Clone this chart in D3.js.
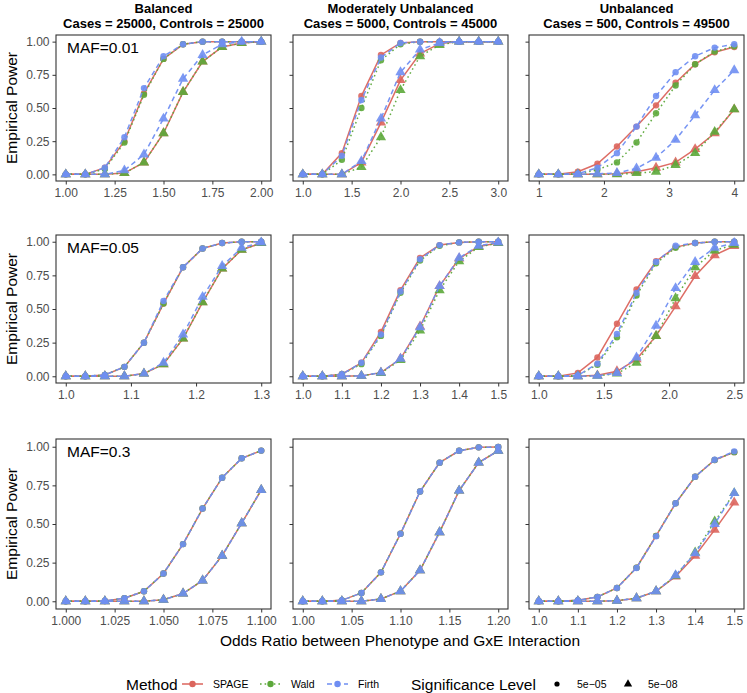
<!DOCTYPE html>
<html><head><meta charset="utf-8">
<script src="https://cdn.jsdelivr.net/npm/d3@7"></script>
<style>
body{margin:0;background:#fff;}
svg{display:block;font-family:"Liberation Sans",Arial,Helvetica,sans-serif;}
</style></head>
<body><svg id="chart" width="747" height="693"></svg>
<script>
// ---------- labels ----------
const designTitles = ["Balanced", "Moderately Unbalanced", "Unbalanced"];
const designSubtitles = ["Cases = 25000, Controls = 25000", "Cases = 5000, Controls = 45000", "Cases = 500, Controls = 49500"];
const mafLabels = ["MAF=0.01", "MAF=0.05", "MAF=0.3"];
const methods = ["SPAGE", "Wald", "Firth"];
const sigLevels = ["5e\u221205", "5e\u221208"];
const yTickValues = [0, 0.25, 0.5, 0.75, 1];
const yTickLabels = ["0.00", "0.25", "0.50", "0.75", "1.00"];

// ---------- x values (odds ratios) per panel ----------
const x_r1c1 = [1.0,1.1,1.2,1.3,1.4,1.5,1.6,1.7,1.8,1.9,2.0];
const x_r1c2 = [1.0,1.2,1.4,1.6,1.8,2.0,2.2,2.4,2.6,2.8,3.0];
const x_r1c3 = [1.0,1.3,1.6,1.9,2.2,2.5,2.8,3.1,3.4,3.7,4.0];
const x_r2c1 = [1.00,1.03,1.06,1.09,1.12,1.15,1.18,1.21,1.24,1.27,1.30];
const x_r2c2 = [1.00,1.05,1.10,1.15,1.20,1.25,1.30,1.35,1.40,1.45,1.50];
const x_r2c3 = [1.00,1.15,1.30,1.45,1.60,1.75,1.90,2.05,2.20,2.35,2.50];
const x_r3c1 = [1.00,1.01,1.02,1.03,1.04,1.05,1.06,1.07,1.08,1.09,1.10];
const x_r3c2 = [1.00,1.02,1.04,1.06,1.08,1.10,1.12,1.14,1.16,1.18,1.20];
const x_r3c3 = [1.00,1.05,1.10,1.15,1.20,1.25,1.30,1.35,1.40,1.45,1.50];

// ---------- x axis domains & tick labels ----------
const xDomains = [[1,2],[1,3],[1,4],[1,1.3],[1,1.5],[1,2.5],[1,1.1],[1,1.2],[1,1.5]];
const xTicks = [
  [1,1.25,1.5,1.75,2], [1,1.5,2,2.5,3], [1,2,3,4],
  [1,1.1,1.2,1.3], [1,1.1,1.2,1.3,1.4,1.5], [1,1.5,2,2.5],
  [1,1.025,1.05,1.075,1.1], [1,1.05,1.1,1.15,1.2], [1,1.1,1.2,1.3,1.4,1.5]
];
const xTickLabels = [
  ["1.00","1.25","1.50","1.75","2.00"], ["1.0","1.5","2.0","2.5","3.0"], ["1","2","3","4"],
  ["1.0","1.1","1.2","1.3"], ["1.0","1.1","1.2","1.3","1.4","1.5"], ["1.0","1.5","2.0","2.5"],
  ["1.000","1.025","1.050","1.075","1.100"], ["1.00","1.05","1.10","1.15","1.20"], ["1.0","1.1","1.2","1.3","1.4","1.5"]
];

// ---------- empirical power: c = 5e-05 (circles), t = 5e-08 (triangles) ----------
// Row 1: MAF = 0.01
const r1c1_SPAGE_c = [0,0,0.05,0.25,0.61,0.87,0.98,1,1,1,1];
const r1c1_Wald_c  = [0,0,0.04,0.24,0.60,0.87,0.98,1,1,1,1];
const r1c1_Firth_c = [0,0,0.05,0.28,0.65,0.89,0.98,1,1,1,1];
const r1c1_SPAGE_t = [0,0,0,0.01,0.09,0.31,0.62,0.85,0.96,0.99,1];
const r1c1_Wald_t  = [0,0,0,0.01,0.09,0.31,0.62,0.85,0.96,0.99,1];
const r1c1_Firth_t = [0,0,0,0.03,0.15,0.42,0.72,0.90,0.98,1,1];

const r1c2_SPAGE_c = [0,0,0.16,0.59,0.90,0.99,1,1,1,1,1];
const r1c2_Wald_c  = [0,0,0.11,0.50,0.86,0.98,1,1,1,1,1];
const r1c2_Firth_c = [0,0,0.14,0.56,0.88,0.99,1,1,1,1,1];
const r1c2_SPAGE_t = [0,0,0,0.09,0.39,0.71,0.91,0.985,1,1,1];
const r1c2_Wald_t  = [0,0,0,0.055,0.28,0.635,0.89,0.975,1,1,1];
const r1c2_Firth_t = [0,0,0,0.10,0.42,0.77,0.94,0.99,1,1,1];

const r1c3_SPAGE_c = [0,0,0.02,0.08,0.21,0.36,0.52,0.69,0.83,0.92,0.96];
const r1c3_Wald_c  = [0,0,0.005,0.035,0.09,0.24,0.46,0.67,0.83,0.925,0.965];
const r1c3_Firth_c = [0,0,0.005,0.05,0.16,0.36,0.59,0.77,0.89,0.955,0.98];
const r1c3_SPAGE_t = [0,0,0,0,0.005,0.02,0.05,0.09,0.19,0.31,0.49];
const r1c3_Wald_t  = [0,0,0,0,0,0.01,0.02,0.07,0.16,0.32,0.49];
const r1c3_Firth_t = [0,0,0,0.005,0.01,0.045,0.125,0.26,0.445,0.635,0.785];

// Row 2: MAF = 0.05
const r2c1_SPAGE_c = [0,0,0.01,0.07,0.25,0.54,0.81,0.95,0.99,1,1];
const r2c1_Wald_c  = [0,0,0.01,0.07,0.25,0.54,0.81,0.95,0.99,1,1];
const r2c1_Firth_c = [0,0,0.01,0.07,0.25,0.56,0.81,0.95,0.99,1,1];
const r2c1_SPAGE_t = [0,0,0,0,0.02,0.09,0.28,0.55,0.80,0.94,0.99];
const r2c1_Wald_t  = [0,0,0,0,0.02,0.09,0.28,0.55,0.80,0.94,0.99];
const r2c1_Firth_t = [0,0,0,0,0.02,0.10,0.31,0.59,0.82,0.955,0.995];

const r2c2_SPAGE_c = [0,0,0.015,0.10,0.33,0.64,0.88,0.975,0.995,1,1];
const r2c2_Wald_c  = [0,0,0.015,0.09,0.30,0.62,0.86,0.97,0.995,1,1];
const r2c2_Firth_c = [0,0,0.015,0.10,0.31,0.63,0.87,0.975,0.995,1,1];
const r2c2_SPAGE_t = [0,0,0,0.003,0.027,0.13,0.37,0.67,0.875,0.965,0.99];
const r2c2_Wald_t  = [0,0,0,0.003,0.025,0.12,0.34,0.64,0.855,0.96,0.99];
const r2c2_Firth_t = [0,0,0,0.003,0.027,0.13,0.365,0.67,0.88,0.97,0.995];

const r2c3_SPAGE_c = [0,0,0.025,0.14,0.39,0.645,0.855,0.96,0.99,1,1];
const r2c3_Wald_c  = [0,0,0.007,0.086,0.29,0.60,0.84,0.955,0.99,1,1];
const r2c3_Firth_c = [0,0,0.007,0.094,0.315,0.62,0.85,0.97,0.99,1,1];
const r2c3_SPAGE_t = [0,0,0,0.007,0.037,0.126,0.30,0.52,0.745,0.90,0.968];
const r2c3_Wald_t  = [0,0,0,0.003,0.02,0.10,0.30,0.58,0.81,0.935,0.978];
const r2c3_Firth_t = [0,0,0,0.003,0.025,0.14,0.375,0.655,0.85,0.955,0.99];

// Row 3: MAF = 0.3
const r3c1_SPAGE_c = [0,0,0.002,0.02,0.065,0.18,0.37,0.60,0.80,0.925,0.975];
const r3c1_Wald_c  = [0,0,0.002,0.02,0.065,0.18,0.37,0.60,0.80,0.925,0.975];
const r3c1_Firth_c = [0,0,0.002,0.02,0.065,0.18,0.37,0.60,0.80,0.925,0.975];
const r3c1_SPAGE_t = [0,0,0,0,0,0.01,0.05,0.135,0.295,0.505,0.72];
const r3c1_Wald_t  = [0,0,0,0,0,0.01,0.05,0.135,0.295,0.505,0.72];
const r3c1_Firth_t = [0,0,0,0,0,0.01,0.05,0.135,0.295,0.505,0.72];

const r3c2_SPAGE_c = [0,0,0.006,0.054,0.187,0.437,0.71,0.897,0.974,0.996,0.998];
const r3c2_Wald_c  = [0,0,0.006,0.054,0.187,0.437,0.71,0.897,0.974,0.996,0.998];
const r3c2_Firth_c = [0,0,0.006,0.054,0.187,0.437,0.71,0.897,0.974,0.996,0.998];
const r3c2_SPAGE_t = [0,0,0,0,0.015,0.065,0.20,0.447,0.716,0.897,0.974];
const r3c2_Wald_t  = [0,0,0,0,0.015,0.065,0.20,0.447,0.716,0.897,0.974];
const r3c2_Firth_t = [0,0,0,0,0.015,0.065,0.20,0.447,0.716,0.897,0.974];

const r3c3_SPAGE_c = [0,0,0.006,0.028,0.086,0.217,0.423,0.634,0.806,0.914,0.965];
const r3c3_Wald_c  = [0,0,0.006,0.028,0.086,0.217,0.423,0.634,0.806,0.914,0.965];
const r3c3_Firth_c = [0,0,0.006,0.028,0.086,0.215,0.42,0.634,0.806,0.916,0.97];
const r3c3_SPAGE_t = [0,0,0,0,0.004,0.02,0.065,0.16,0.295,0.462,0.639];
const r3c3_Wald_t  = [0,0,0,0,0.004,0.02,0.065,0.165,0.316,0.516,0.70];
const r3c3_Firth_t = [0,0,0,0,0.004,0.02,0.065,0.168,0.31,0.50,0.70];

// ---------- assemble panels from the arrays above ----------
const panelX = [x_r1c1,x_r1c2,x_r1c3,x_r2c1,x_r2c2,x_r2c3,x_r3c1,x_r3c2,x_r3c3];
const panelY = [
  {SPAGE:[r1c1_SPAGE_c,r1c1_SPAGE_t],Wald:[r1c1_Wald_c,r1c1_Wald_t],Firth:[r1c1_Firth_c,r1c1_Firth_t]},
  {SPAGE:[r1c2_SPAGE_c,r1c2_SPAGE_t],Wald:[r1c2_Wald_c,r1c2_Wald_t],Firth:[r1c2_Firth_c,r1c2_Firth_t]},
  {SPAGE:[r1c3_SPAGE_c,r1c3_SPAGE_t],Wald:[r1c3_Wald_c,r1c3_Wald_t],Firth:[r1c3_Firth_c,r1c3_Firth_t]},
  {SPAGE:[r2c1_SPAGE_c,r2c1_SPAGE_t],Wald:[r2c1_Wald_c,r2c1_Wald_t],Firth:[r2c1_Firth_c,r2c1_Firth_t]},
  {SPAGE:[r2c2_SPAGE_c,r2c2_SPAGE_t],Wald:[r2c2_Wald_c,r2c2_Wald_t],Firth:[r2c2_Firth_c,r2c2_Firth_t]},
  {SPAGE:[r2c3_SPAGE_c,r2c3_SPAGE_t],Wald:[r2c3_Wald_c,r2c3_Wald_t],Firth:[r2c3_Firth_c,r2c3_Firth_t]},
  {SPAGE:[r3c1_SPAGE_c,r3c1_SPAGE_t],Wald:[r3c1_Wald_c,r3c1_Wald_t],Firth:[r3c1_Firth_c,r3c1_Firth_t]},
  {SPAGE:[r3c2_SPAGE_c,r3c2_SPAGE_t],Wald:[r3c2_Wald_c,r3c2_Wald_t],Firth:[r3c2_Firth_c,r3c2_Firth_t]},
  {SPAGE:[r3c3_SPAGE_c,r3c3_SPAGE_t],Wald:[r3c3_Wald_c,r3c3_Wald_t],Firth:[r3c3_Firth_c,r3c3_Firth_t]}
];

// ---------- styling / layout ----------
const colors = {SPAGE:"#DB655D", Wald:"#5CA83A", Firth:"#6F8EF2"};
const dashes = {SPAGE:null, Wald:"1.6,3", Firth:"5,3.5"};
const colX = [56, 293, 529];
const panelW = 215;
const rowY = [35, 235, 439];
const rowH = [146, 148, 170];
const greyText = "#4D4D4D";
const borderCol = "#333333";

const svg = d3.select("#chart");
const triangle = d3.symbol().type(d3.symbolTriangle).size(46);
function expand(dom){ const r = dom[1]-dom[0]; return [dom[0]-0.05*r, dom[1]+0.05*r]; }

for (let r=0; r<3; r++){
  for (let c=0; c<3; c++){
    const idx = r*3+c;
    const x0 = colX[c], y0 = rowY[r], h = rowH[r];
    const xs = d3.scaleLinear().domain(expand(xDomains[idx])).range([x0, x0+panelW]);
    const ys = d3.scaleLinear().domain(expand([0,1])).range([y0+h, y0]);
    const g = svg.append("g");

    g.append("rect").attr("x",x0).attr("y",y0).attr("width",panelW).attr("height",h).attr("fill","#fff");

    const xa = d3.axisBottom(xs).tickValues(xTicks[idx]).tickSize(3.5).tickPadding(4)
      .tickFormat((d,i)=>xTickLabels[idx][i]);
    const gx = g.append("g").attr("transform",`translate(0,${y0+h})`).call(xa);
    gx.select(".domain").remove();
    gx.selectAll("line").attr("stroke",borderCol);
    gx.selectAll("text").attr("fill",greyText).style("font-size","12px");

    const ya = d3.axisLeft(ys).tickValues(yTickValues).tickSize(3.5).tickPadding(3)
      .tickFormat((d,i)=>c===0 ? yTickLabels[i] : "");
    const gy = g.append("g").attr("transform",`translate(${x0},0)`).call(ya);
    gy.select(".domain").remove();
    gy.selectAll("line").attr("stroke",borderCol);
    gy.selectAll("text").attr("fill",greyText).style("font-size","12px");

    const xv = panelX[idx];
    methods.forEach(m=>{
      [0,1].forEach(s=>{
        const vals = panelY[idx][m][s];
        const pts = xv.map((x,i)=>[x, vals[i]]);
        const line = d3.line().x(d=>xs(d[0])).y(d=>ys(d[1]));
        g.append("path").attr("d",line(pts)).attr("fill","none")
          .attr("stroke",colors[m]).attr("stroke-width",1.5)
          .attr("stroke-dasharray",dashes[m]).attr("stroke-opacity",0.95);
        if (s===0){
          g.selectAll(null).data(pts).enter().append("circle")
            .attr("cx",d=>xs(d[0])).attr("cy",d=>ys(d[1])).attr("r",3.2)
            .attr("fill",colors[m]).attr("fill-opacity",0.9);
        } else {
          g.selectAll(null).data(pts).enter().append("path")
            .attr("d",triangle)
            .attr("transform",d=>`translate(${xs(d[0])},${ys(d[1])})`)
            .attr("fill",colors[m]).attr("fill-opacity",0.9);
        }
      });
    });

    g.append("rect").attr("x",x0).attr("y",y0).attr("width",panelW).attr("height",h)
      .attr("fill","none").attr("stroke",borderCol).attr("stroke-width",1.1);

    if (c===0){
      g.append("text").attr("x",x0+11).attr("y",y0+18).text(mafLabels[r])
        .style("font-size","15.5px").attr("fill","#000");
    }
  }
  svg.append("text")
    .attr("transform",`translate(17,${rowY[r]+rowH[r]/2}) rotate(-90)`)
    .attr("text-anchor","middle").style("font-size","15.5px").attr("fill","#000")
    .text("Empirical Power");
}

for (let c=0; c<3; c++){
  const cx = colX[c] + panelW/2;
  svg.append("text").attr("x",cx).attr("y",13).attr("text-anchor","middle")
    .style("font-size","13px").style("font-weight","bold").text(designTitles[c]);
  svg.append("text").attr("x",cx).attr("y",28).attr("text-anchor","middle")
    .style("font-size","13px").style("font-weight","bold").text(designSubtitles[c]);
}

svg.append("text").attr("x",(colX[0]+colX[2]+panelW)/2).attr("y",645.5).attr("text-anchor","middle")
  .style("font-size","15.5px").text("Odds Ratio between Phenotype and GxE Interaction");

// legend
const ly = 684;
svg.append("text").attr("x",126).attr("y",ly+5.5).style("font-size","15.5px").text("Method");
const keyX = [182, 260, 327];
methods.forEach((m,i)=>{
  const kx = keyX[i];
  svg.append("line").attr("x1",kx).attr("x2",kx+21).attr("y1",ly).attr("y2",ly)
    .attr("stroke",colors[m]).attr("stroke-width",1.5).attr("stroke-dasharray",dashes[m]);
  svg.append("circle").attr("cx",kx+10.5).attr("cy",ly).attr("r",3.2).attr("fill",colors[m]);
  svg.append("text").attr("x",kx+31).attr("y",ly+4).style("font-size","10.5px").text(m);
});
svg.append("text").attr("x",411).attr("y",ly+5.5).style("font-size","15.5px").text("Significance Level");
svg.append("circle").attr("cx",557).attr("cy",ly).attr("r",2.6).attr("fill","#000");
svg.append("text").attr("x",577).attr("y",ly+4).style("font-size","10.5px").text(sigLevels[0]);
svg.append("path").attr("d",d3.symbol().type(d3.symbolTriangle).size(30))
  .attr("transform",`translate(628,${ly})`).attr("fill","#000");
svg.append("text").attr("x",648).attr("y",ly+4).style("font-size","10.5px").text(sigLevels[1]);
</script></body></html>
